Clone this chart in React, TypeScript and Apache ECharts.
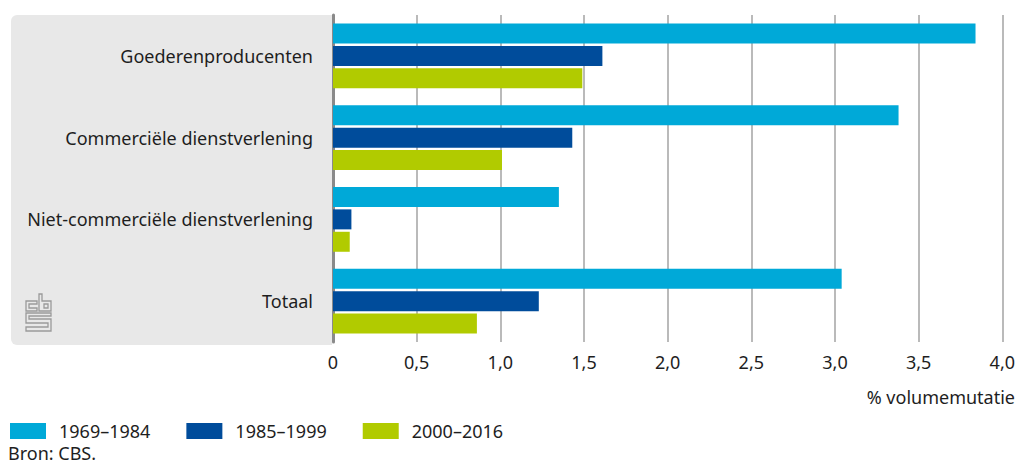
import React, { useEffect, useRef } from "react";
import * as echarts from "echarts";

const categories = [
  "Goederenproducenten",
  "Commerciële dienstverlening",
  "Niet-commerciële dienstverlening",
  "Totaal",
];
const seriesNames = ["1969–1984", "1985–1999", "2000–2016"];
const values1969 = [3.84, 3.38, 1.35, 3.04];
const values1985 = [1.61, 1.43, 0.11, 1.23];
const values2000 = [1.49, 1.01, 0.1, 0.86];
const colors = ["#00a9d8", "#004c9b", "#b1cb00"];
const axisTitle = "% volumemutatie";
const sourceText = "Bron: CBS.";

const FONT = "'Noto Sans', 'Open Sans', sans-serif";
const TEXT = "#1e1e1e";
const LOGO = "#9a9a9a";
const FS = 18;

export default function App() {
  const ref = useRef<HTMLDivElement>(null);
  useEffect(() => {
    if (!ref.current) return;
    const chart = echarts.init(ref.current, undefined, { renderer: "svg" });
    const data = [values1969, values1985, values2000];
    const logoStroke = { stroke: LOGO, lineWidth: 1.3, fill: "none" };
    chart.setOption({
      animation: false,
      textStyle: { fontFamily: FONT },
      grid: { left: 333, right: 14, top: 15, bottom: 124 },
      xAxis: {
        type: "value",
        min: 0,
        max: 4,
        interval: 0.5,
        axisLine: { show: false },
        axisTick: { show: false },
        splitLine: { lineStyle: { color: "#a3a3a3", width: 1.5 } },
        axisLabel: {
          fontSize: FS,
          color: TEXT,
          fontFamily: FONT,
          margin: 11,
          formatter: (v: number) => (v === 0 ? "0" : v.toFixed(1).replace(".", ",")),
        },
      },
      yAxis: {
        type: "category",
        inverse: true,
        data: categories,
        axisTick: { show: false },
        axisLine: { show: true, lineStyle: { color: "#8a8a8a", width: 3 } },
        axisLabel: { fontSize: FS, color: TEXT, fontFamily: FONT, margin: 20 },
      },
      legend: {
        left: 5,
        top: 417,
        itemWidth: 36,
        itemHeight: 16,
        itemGap: 36,
        icon: "rect",
        data: seriesNames,
        textStyle: { fontSize: FS, color: TEXT, fontFamily: FONT, padding: [0, 0, 0, 8] },
      },
      series: seriesNames.map((name, i) => ({
        name,
        type: "bar",
        data: data[i],
        barWidth: 20,
        barGap: "12%",
        itemStyle: { color: colors[i] },
      })),
      graphic: [
        {
          type: "rect",
          z: -10,
          shape: { x: 11, y: 15, width: 321, height: 330, r: [6, 0, 0, 6] },
          style: { fill: "#e8e8e8" },
        },
        {
          type: "text",
          x: 1015,
          y: 397,
          style: {
            text: axisTitle,
            fontSize: FS,
            fill: TEXT,
            fontFamily: FONT,
            align: "right",
            verticalAlign: "middle",
          },
        },
        {
          type: "text",
          x: 8,
          y: 453,
          style: {
            text: sourceText,
            fontSize: FS,
            fill: TEXT,
            fontFamily: FONT,
            align: "left",
            verticalAlign: "middle",
          },
        },
        {
          type: "group",
          children: [
            {
              type: "polygon",
              shape: {
                points: [
                  [37, 301], [26, 301], [26, 311], [37, 311], [37, 308], [29, 308], [29, 304], [37, 304],
                ],
              },
              style: logoStroke,
            },
            {
              type: "polygon",
              shape: {
                points: [
                  [39, 294], [42, 294], [42, 301], [51, 301], [51, 311], [39, 311],
                ],
              },
              style: logoStroke,
            },
            {
              type: "rect",
              shape: { x: 44, y: 304, width: 4, height: 4 },
              style: logoStroke,
            },
            {
              type: "polygon",
              shape: {
                points: [
                  [51, 313], [26, 313], [26, 323], [48, 323], [48, 327], [26, 327], [26, 331],
                  [51, 331], [51, 319], [29, 319], [29, 316], [51, 316],
                ],
              },
              style: logoStroke,
            },
          ],
        },
      ],
    });
    return () => chart.dispose();
  }, []);
  return (
    <div
      ref={ref}
      style={{ position: "fixed", left: 0, top: 0, width: 1018, height: 466, background: "#fff" }}
    />
  );
}
